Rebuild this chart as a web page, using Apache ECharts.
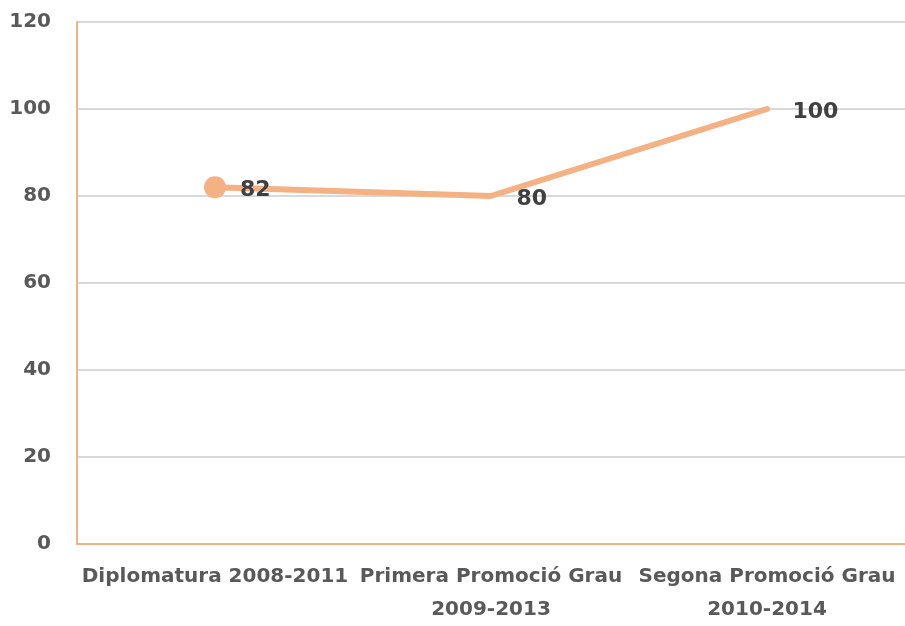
<!DOCTYPE html>
<html>
<head>
<meta charset="utf-8">
<script src="https://cdn.jsdelivr.net/npm/echarts@6/dist/echarts.min.js"></script>
<style>html,body{margin:0;padding:0;background:#fff}#c{width:905px;height:626px}</style>
</head>
<body>
<div id="c"></div>
<script>
var categories = ['Diplomatura 2008-2011', 'Primera Promoció Grau\n2009-2013', 'Segona Promoció Grau\n2010-2014'];
var values = [82, 80, 100];
var yTicks = { min: 0, max: 120, interval: 20 };

var chart = echarts.init(document.getElementById('c'), null, { renderer: 'canvas' });
var FONT = '"DejaVu Sans", sans-serif';
var orange = '#F4B183';
var seriesData = values.map(function (v, i) {
  return i === 0
    ? { value: v, symbol: 'circle', symbolSize: 22, itemStyle: { color: orange }, label: { distance: 14, offset: [0, 3] } }
    : { value: v, symbol: 'circle', symbolSize: 1, itemStyle: { color: 'rgba(0,0,0,0)' }, label: { distance: 25, offset: [0, 3] } };
});
chart.setOption({
  animation: false,
  grid: { left: 77, right: -3, top: 22, bottom: 76 },
  xAxis: {
    type: 'category',
    data: categories,
    boundaryGap: true,
    axisLine: { show: true, lineStyle: { color: orange, width: 2 } },
    axisTick: { show: false },
    axisLabel: { color: '#595959', fontFamily: FONT, fontWeight: 'bold', fontSize: 20, lineHeight: 33, margin: 16, interval: 0 }
  },
  yAxis: {
    type: 'value',
    min: yTicks.min, max: yTicks.max, interval: yTicks.interval,
    axisLine: { show: true, lineStyle: { color: orange, width: 2 } },
    axisTick: { show: false },
    splitLine: { show: true, lineStyle: { color: '#D9D9D9', width: 2 } },
    axisLabel: { color: '#595959', fontFamily: FONT, fontWeight: 'bold', fontSize: 20, margin: 26 }
  },
  series: [{
    type: 'line',
    data: seriesData,
    lineStyle: { color: orange, width: 6, cap: 'round' },
    itemStyle: { color: orange },
    showAllSymbol: true,
    label: { show: true, position: 'right', color: '#404040', fontFamily: FONT, fontWeight: 'bold', fontSize: 22 }
  }]
});
</script>
</body>
</html>
